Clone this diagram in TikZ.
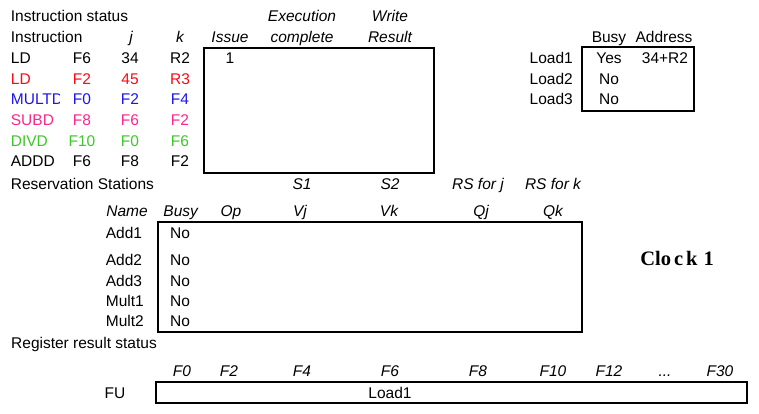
\documentclass[tikz,border=0pt]{standalone}
\usepackage{fontspec}
\setmainfont{Liberation Sans}
\newfontfamily\clockfont{Liberation Serif}
\usepackage{xcolor}
\definecolor{ld-red}{RGB}{250,10,20}
\definecolor{mult-blue}{RGB}{30,20,235}
\definecolor{sub-pink}{RGB}{250,40,140}
\definecolor{div-green}{RGB}{60,200,40}

\begin{document}
\begin{tikzpicture}	[
	x=1pt,y=-1pt,
	every node/.style={inner sep=0pt,anchor=base,font=\fontsize{15.5}{18}\selectfont},
	hd/.style={font=\fontsize{15.5}{18}\selectfont\itshape},
	tbl/.style={line width=2pt}
	]
	\useasboundingbox (0,0) rectangle (759,413);
	
	% corners of the four tables
	\coordinate (IS-nw) at (204,48);
	\coordinate (IS-se) at (434,173);
	\coordinate (LB-nw) at (582,47);
	\coordinate (LB-se) at (694,111);
	\coordinate (RS-nw) at (157.5,222);
	\coordinate (RS-se) at (582,332);
	\coordinate (RR-nw) at (156,381.5);
	\coordinate (RR-se) at (747,402.5);
	
	\draw[tbl] (IS-nw) rectangle (IS-se);
	\draw[tbl] (LB-nw) rectangle (LB-se);
	\draw[tbl] (RS-nw) rectangle (RS-se);
	\draw[tbl] (RR-nw) rectangle (RR-se);
	
	% instruction status
	\node[anchor=base west] (is-title) at (10.7,21) {Instruction status};
	\node[hd] (is-exec) at (302,21) {Execution};
	\node[hd] (is-write) at (390,21) {Write};
	\node[anchor=base west] (is-instr) at (10.7,42) {Instruction};
	\node[hd] (is-j) at (131,42) {j};
	\node[hd] (is-k) at (180,42) {k};
	\node[hd] (is-issue) at (230,42) {Issue};
	\node[hd] (is-compl) at (302,42) {complete};
	\node[hd] (is-result) at (390,42) {Result};
	
	\path
		(10.7,63.3) node[anchor=base west] (i1-op) {LD}
		(82,63.3) node (i1-d) {F6}
		(130,63.3) node (i1-j) {34}
		(180,63.3) node (i1-k) {R2}
		(230,63.3) node (i1-issue) {1};
	\path[every node/.append style={text=ld-red}]
		(10.7,84) node[anchor=base west] (i2-op) {LD}
		(82,84) node (i2-d) {F2}
		(130,84) node (i2-j) {45}
		(180,84) node (i2-k) {R3};
	\begin{scope}
		\clip (0,88) rectangle (59,112); % opcode column cuts the last letter
		\node[anchor=base west,text=mult-blue] (i3-op) at (10.7,104.7) {MULTD};
	\end{scope}
	\path[every node/.append style={text=mult-blue}]
		(82,104.7) node (i3-d) {F0}
		(130,104.7) node (i3-j) {F2}
		(180,104.7) node (i3-k) {F4};
	\path[every node/.append style={text=sub-pink}]
		(10.7,125.4) node[anchor=base west] (i4-op) {SUBD}
		(82,125.4) node (i4-d) {F8}
		(130,125.4) node (i4-j) {F6}
		(180,125.4) node (i4-k) {F2};
	\path[every node/.append style={text=div-green}]
		(10.7,146) node[anchor=base west] (i5-op) {DIVD}
		(82,146) node (i5-d) {F10}
		(130,146) node (i5-j) {F0}
		(180,146) node (i5-k) {F6};
	\path
		(10.7,166.8) node[anchor=base west] (i6-op) {ADDD}
		(82,166.8) node (i6-d) {F6}
		(130,166.8) node (i6-j) {F8}
		(180,166.8) node (i6-k) {F2};
	
	% load buffers
	\node (lb-busy) at (609,42) {Busy};
	\node (lb-addr) at (664,42) {Address};
	\node[anchor=base east] (lb-1) at (573,63.3) {Load1};
	\node[anchor=base east] (lb-2) at (573,84) {Load2};
	\node[anchor=base east] (lb-3) at (573,104.7) {Load3};
	\node (lb-1-busy) at (609,63.3) {Yes};
	\node (lb-1-addr) at (665,63.3) {34+R2};
	\node (lb-2-busy) at (609,84) {No};
	\node (lb-3-busy) at (609,104.7) {No};
	
	% reservation stations
	\node[anchor=base west] (rs-title) at (10.7,189) {Reservation Stations};
	\node[hd] (rs-s1) at (302,189) {S1};
	\node[hd] (rs-s2) at (390,189) {S2};
	\node[hd] (rs-rsj) at (478,189) {RS for j};
	\node[hd] (rs-rsk) at (553,189) {RS for k};
	
	\path[every node/.append style=hd]
		(127,216.7) node (rs-name) {Name}
		(180.7,216.7) node (rs-busy) {Busy}
		(231,216.7) node (rs-op) {Op}
		(300,216.7) node (rs-vj) {Vj}
		(389,216.7) node (rs-vk) {Vk}
		(481,216.7) node (rs-qj) {Qj}
		(553,216.7) node (rs-qk) {Qk};
	
	\path[every node/.append style={anchor=base west}]
		(105.7,238.3) node (rs-add1) {Add1}
		(105.7,265) node (rs-add2) {Add2}
		(105.7,286) node (rs-add3) {Add3}
		(105.7,306) node (rs-mult1) {Mult1}
		(105.7,326.7) node (rs-mult2) {Mult2};
	\path
		(180,238.3) node (rs-add1-busy) {No}
		(180,265) node (rs-add2-busy) {No}
		(180,286) node (rs-add3-busy) {No}
		(180,306) node (rs-mult1-busy) {No}
		(180,326.7) node (rs-mult2-busy) {No};
	
	\node[font=\fontsize{20.5}{24}\clockfont\bfseries] (clock) at (677,265)
		{Clo\hspace{3pt}c\hspace{3pt}k\hspace{6pt}1};
	
	% register result status
	\node[anchor=base west] (rr-title) at (11,348.3) {Register result status};
	\path[every node/.append style=hd]
		(182,376.7) node (rr-f0) {F0}
		(229,376.7) node (rr-f2) {F2}
		(302,376.7) node (rr-f4) {F4}
		(390,376.7) node (rr-f6) {F6}
		(478,376.7) node (rr-f8) {F8}
		(553,376.7) node (rr-f10) {F10}
		(609,376.7) node (rr-f12) {F12}
		(665,376.7) node (rr-dots) {...}
		(720,376.7) node (rr-f30) {F30};
	\node (rr-fu) at (115,398.3) {FU};
	\node (rr-f6-fu) at (390,398.3) {Load1};
\end{tikzpicture}
\end{document}
